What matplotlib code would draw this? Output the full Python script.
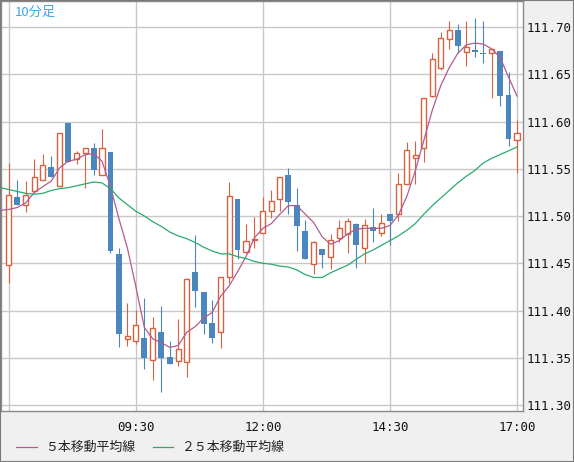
import matplotlib.pyplot as plt
from matplotlib.lines import Line2D
from matplotlib.patches import Rectangle
import numpy as np
import pandas as pd

plt.rcParams['font.family'] = ['Noto Sans CJK JP', 'DejaVu Sans']

# 10-minute candles, 07:00 -> 17:00
opens = [111.448, 111.520, 111.512, 111.526, 111.538, 111.552, 111.532, 111.598, 111.560, 111.567,
         111.572, 111.543, 111.568, 111.460, 111.370, 111.368, 111.371, 111.348, 111.377, 111.351,
         111.347, 111.346, 111.441, 111.420, 111.387, 111.377, 111.435, 111.518, 111.462, 111.475,
         111.482, 111.505, 111.518, 111.543, 111.512, 111.484, 111.449, 111.465, 111.457, 111.477,
         111.481, 111.492, 111.466, 111.488, 111.482, 111.502, 111.502, 111.534, 111.561, 111.572,
         111.627, 111.657, 111.687, 111.697, 111.674, 111.676, 111.672, 111.672, 111.675, 111.628, 111.580]
highs = [111.556, 111.538, 111.537, 111.560, 111.566, 111.564, 111.588, 111.598, 111.569, 111.572,
         111.577, 111.592, 111.568, 111.466, 111.408, 111.401, 111.413, 111.393, 111.405, 111.368,
         111.391, 111.434, 111.480, 111.420, 111.411, 111.436, 111.536, 111.518, 111.492, 111.499,
         111.520, 111.528, 111.541, 111.551, 111.530, 111.496, 111.474, 111.465, 111.481, 111.496,
         111.498, 111.493, 111.497, 111.509, 111.502, 111.502, 111.545, 111.578, 111.579, 111.625,
         111.672, 111.695, 111.706, 111.703, 111.706, 111.710, 111.706, 111.677, 111.675, 111.652, 111.602]
lows = [111.429, 111.512, 111.504, 111.524, 111.538, 111.541, 111.532, 111.557, 111.555, 111.530,
        111.543, 111.543, 111.461, 111.361, 111.363, 111.365, 111.338, 111.327, 111.314, 111.343,
        111.341, 111.330, 111.404, 111.375, 111.366, 111.360, 111.429, 111.455, 111.461, 111.466,
        111.482, 111.498, 111.505, 111.502, 111.463, 111.455, 111.439, 111.445, 111.444, 111.472,
        111.461, 111.445, 111.450, 111.472, 111.479, 111.469, 111.495, 111.534, 111.534, 111.557,
        111.626, 111.654, 111.677, 111.673, 111.659, 111.668, 111.662, 111.625, 111.616, 111.574, 111.545]
closes = [111.522, 111.512, 111.522, 111.541, 111.554, 111.541, 111.588, 111.557, 111.567, 111.572,
          111.549, 111.572, 111.463, 111.375, 111.373, 111.385, 111.350, 111.381, 111.350, 111.343,
          111.359, 111.433, 111.421, 111.386, 111.371, 111.436, 111.521, 111.464, 111.474, 111.476,
          111.505, 111.516, 111.541, 111.515, 111.489, 111.455, 111.472, 111.459, 111.475, 111.487,
          111.495, 111.469, 111.491, 111.484, 111.493, 111.495, 111.534, 111.570, 111.565, 111.625,
          111.666, 111.688, 111.697, 111.680, 111.679, 111.674, 111.671, 111.677, 111.627, 111.581, 111.588]

# moving averages as drawn, starting one bar before 07:00
ma5 = [111.506, 111.507, 111.509, 111.514, 111.525, 111.531, 111.537, 111.551, 111.558, 111.560,
       111.565, 111.566, 111.558, 111.531, 111.497, 111.466, 111.425, 111.382, 111.370, 111.366,
       111.361, 111.363, 111.377, 111.383, 111.392, 111.398, 111.415, 111.426, 111.441, 111.457,
       111.477, 111.487, 111.492, 111.502, 111.511, 111.511, 111.502, 111.493, 111.478, 111.470,
       111.474, 111.481, 111.486, 111.487, 111.487, 111.487, 111.490, 111.501, 111.521, 111.548,
       111.580, 111.612, 111.638, 111.657, 111.672, 111.681, 111.683, 111.682, 111.677, 111.668,
       111.647, 111.627]
ma25 = [111.530, 111.528, 111.526, 111.524, 111.523, 111.524, 111.527, 111.529, 111.530, 111.532,
        111.534, 111.536, 111.535, 111.529, 111.519, 111.512, 111.505, 111.500, 111.494, 111.489,
        111.483, 111.479, 111.476, 111.472, 111.467, 111.463, 111.460, 111.460, 111.457, 111.455,
        111.452, 111.450, 111.449, 111.447, 111.446, 111.443, 111.438, 111.435, 111.435, 111.440,
        111.444, 111.448, 111.454, 111.460, 111.464, 111.469, 111.474, 111.479, 111.485, 111.492,
        111.502, 111.511, 111.519, 111.527, 111.535, 111.542, 111.548, 111.556, 111.561, 111.565,
        111.569, 111.573]

grid_times = ['07:00', '09:30', '12:00', '14:30', '17:00']
yticks = [111.30, 111.35, 111.40, 111.45, 111.50, 111.55, 111.60, 111.65, 111.70]

UP = '#d8623f'
DOWN = '#4b87be'
C_MA5 = '#b45b8f'
C_MA25 = '#2aaa6e'

times = list(pd.date_range('2019-01-01 07:00', periods=len(opens), freq='10min').strftime('%H:%M'))

fig = plt.figure(figsize=(5.74, 4.62), dpi=100, facecolor='#f0f0f0')
ax = fig.add_axes([1 / 574, 1 - 411 / 462, 521.5 / 574, 410 / 462])
ax.set_facecolor('white')

o, h, l, c = map(np.array, (opens, highs, lows, closes))
x = np.arange(len(o))
up = c >= o
lo = np.minimum(o, c)
ht = np.maximum(np.abs(c - o), 0.0012)

ax.vlines(x, l, h, colors=np.where(up, UP, DOWN), lw=0.8, zorder=2)
ax.bar(x[up], ht[up], bottom=lo[up], width=0.6, facecolor='white',
       edgecolor=UP, linewidth=1.0, zorder=3)
ax.bar(x[~up], ht[~up], bottom=lo[~up], width=0.7, color=DOWN, linewidth=0, zorder=3)

ax.plot(np.arange(-1, -1 + len(ma5)), ma5, color=C_MA5, lw=0.9, zorder=4)
ax.plot(np.arange(-1, -1 + len(ma25)), ma25, color=C_MA25, lw=0.9, zorder=4)

ax.set_xlim(-0.93, 60.65)
ax.set_ylim(111.2937, 111.7275)

ax.set_xticks([times.index(t) for t in grid_times])
ax.set_xticklabels([''] + grid_times[1:], family='DejaVu Sans Mono', fontsize=9)
ax.yaxis.tick_right()
ax.set_yticks(yticks)
ax.set_yticklabels(['%.2f' % v for v in yticks], family='DejaVu Sans Mono', fontsize=9)
ax.tick_params(axis='both', length=0, colors='#111111')
ax.tick_params(axis='x', pad=7)
ax.tick_params(axis='y', pad=3)
ax.grid(True, color='#c8c8c8', lw=1.0, zorder=0)
ax.set_axisbelow(True)
for s in ax.spines.values():
    s.set_color('#8a8a8a')
    s.set_linewidth(1.0)

ax.text(14 / 521.5, 1 - 11 / 410, '10分足', transform=ax.transAxes, color='#3aa8e6',
        fontsize=9.5, va='center', ha='left')

# legend along the bottom
ly = 1 - 447 / 462
fig.add_artist(Line2D([16 / 574, 37 / 574], [ly, ly], color=C_MA5, lw=0.9))
fig.text(45 / 574, ly, '５本移動平均線', fontsize=9.3, va='center', ha='left', color='#222222')
fig.add_artist(Line2D([153 / 574, 173 / 574], [ly, ly], color=C_MA25, lw=0.9))
fig.text(181 / 574, ly, '２５本移動平均線', fontsize=9.3, va='center', ha='left', color='#222222')

fig.add_artist(Rectangle((0, 0), 1, 1, transform=fig.transFigure, fill=False,
                         edgecolor='#7a7a7a', lw=1.5))

fig.savefig('out.png', dpi=100, facecolor=fig.get_facecolor())
